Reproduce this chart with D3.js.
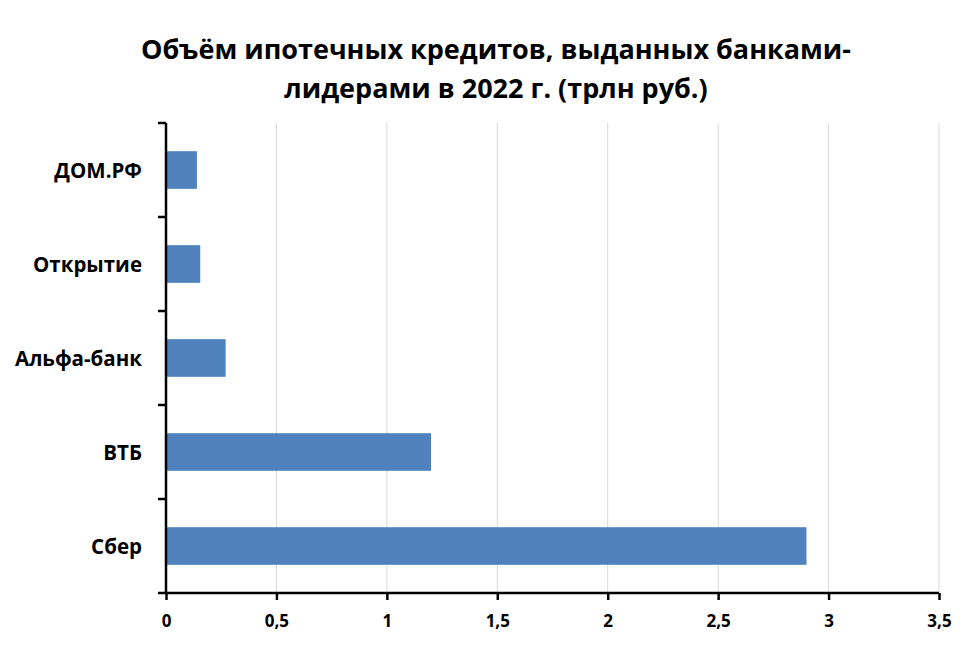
<!DOCTYPE html>
<html>
<head>
<meta charset="utf-8">
<script src="https://cdn.jsdelivr.net/npm/d3@7"></script>
<style>
  body { margin: 0; background: #fff; }
  text { font-family: "Open Sans", sans-serif; font-weight: bold; fill: #000; }
</style>
</head>
<body>
<div id="chart"></div>
<script>
const banks = ["Сбер", "ВТБ", "Альфа-банк", "Открытие", "ДОМ.РФ"];
const volumes = [2.9, 1.2, 0.27, 0.155, 0.14];
const xTicks = [0, 0.5, 1, 1.5, 2, 2.5, 3, 3.5];
const titleLines = ["Объём ипотечных кредитов, выданных банками-", "лидерами в 2022 г. (трлн руб.)"];

const W = 976, H = 647;
const margin = { top: 123, right: 37, bottom: 54, left: 166 };
const width = W - margin.left - margin.right,
    height = H - margin.top - margin.bottom;

const svg = d3.select("#chart")
    .append("svg")
    .attr("width", W)
    .attr("height", H);

// title
svg.append("text")
    .attr("x", 496)
    .attr("text-anchor", "middle")
    .attr("font-size", 27)
    .selectAll("tspan")
    .data(titleLines)
    .join("tspan")
    .attr("x", 496)
    .attr("y", (d, i) => 59 + i * 39)
    .text(d => d);

const g = svg.append("g")
    .attr("transform", `translate(${margin.left},${margin.top})`);

const data = banks.map((b, i) => ({ bank: b, value: volumes[i] }));

const xScale = d3.scaleLinear()
    .domain([0, 3.5])
    .range([0, width]);

// bottom-to-top order: Сбер at the bottom
const yScale = d3.scaleBand()
    .domain(banks.slice().reverse())
    .range([0, height])
    .paddingInner(0.6)
    .paddingOuter(0.3);

// grid
g.append("g")
    .attr("class", "grid")
    .selectAll("line")
    .data(xTicks.filter(d => d > 0))
    .join("line")
    .attr("x1", d => xScale(d))
    .attr("x2", d => xScale(d))
    .attr("y1", 0)
    .attr("y2", height)
    .attr("stroke", "#d9d9d9")
    .attr("stroke-width", 1);

// bars
g.append("g")
    .selectAll("rect")
    .data(data)
    .join("rect")
    .attr("x", xScale(0) + 1)
    .attr("y", d => yScale(d.bank))
    .attr("width", d => xScale(d.value) - xScale(0) - 1)
    .attr("height", yScale.bandwidth())
    .attr("fill", "#4f81bd");

// x axis
const axisX = d3.axisBottom(xScale)
    .tickValues(xTicks)
    .tickSize(7)
    .tickPadding(15)
    .tickFormat(d => String(d).replace(".", ","));

const gx = g.append("g")
    .attr("transform", `translate(0,${height})`)
    .call(axisX);
gx.select(".domain").attr("d", `M-8,0H${width}`).attr("stroke", "#000").attr("stroke-width", 2.5);
gx.selectAll(".tick line").attr("stroke", "#000").attr("stroke-width", 2.5);
gx.selectAll(".tick text")
    .attr("font-size", 17)
    .attr("font-family", "'Open Sans', sans-serif")
    .attr("font-weight", "bold")
    .attr("fill", "#000");

// y axis: ticks on band boundaries
const bandStep = height / banks.length;
const yAxis = g.append("g");
yAxis.append("line")
    .attr("x1", 0).attr("x2", 0)
    .attr("y1", 0).attr("y2", height)
    .attr("stroke", "#000")
    .attr("stroke-width", 2.5);
yAxis.selectAll(".ytick")
    .data(d3.range(banks.length))
    .join("line")
    .attr("class", "ytick")
    .attr("x1", -8).attr("x2", 0)
    .attr("y1", i => i * bandStep)
    .attr("y2", i => i * bandStep)
    .attr("stroke", "#000")
    .attr("stroke-width", 2.5);

yAxis.selectAll(".ylabel")
    .data(data)
    .join("text")
    .attr("class", "ylabel")
    .attr("x", -24)
    .attr("y", d => yScale(d.bank) + yScale.bandwidth() / 2)
    .attr("text-anchor", "end")
    .attr("dominant-baseline", "central")
    .attr("font-size", 20.5)
    .text(d => d.bank);
</script>
</body>
</html>
